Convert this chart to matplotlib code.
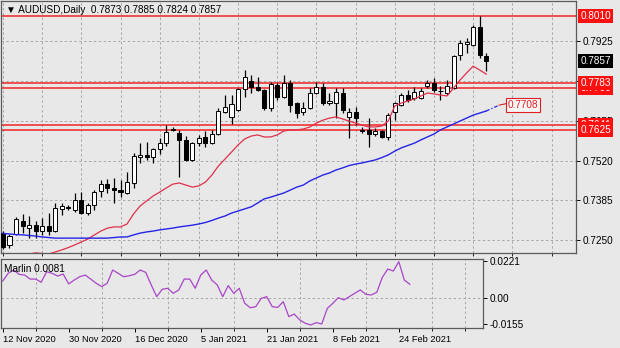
import matplotlib.pyplot as plt

# daily candles, oldest first
opens = [0.7274, 0.7234, 0.7271, 0.7315, 0.7291, 0.7301, 0.7281, 0.7298, 0.7281, 0.7356,
         0.7361, 0.7352, 0.7386, 0.7342, 0.7369, 0.7417, 0.7440, 0.7427, 0.7420, 0.7410,
         0.7444, 0.7532, 0.7539, 0.7532, 0.7559, 0.7579, 0.7624, 0.7613, 0.7590, 0.7522,
         0.7579, 0.7600, 0.7579, 0.7610, 0.7685, 0.7668, 0.7691, 0.7762, 0.7790, 0.7769,
         0.7759, 0.7698, 0.7776, 0.7735, 0.7783, 0.7715, 0.7685, 0.7698, 0.7749, 0.7769,
         0.7715, 0.7715, 0.7749, 0.7668, 0.7685, 0.7622, 0.7624, 0.7610, 0.7620, 0.7600,
         0.7685, 0.7708, 0.7742, 0.7732, 0.7732, 0.7773, 0.7783, 0.7757, 0.7749, 0.7766,
         0.7878, 0.7915, 0.7912, 0.7973, 0.7873]
highs = [0.7280, 0.7271, 0.7328, 0.7339, 0.7332, 0.7315, 0.7325, 0.7342, 0.7376, 0.7376,
         0.7369, 0.7410, 0.7413, 0.7376, 0.7420, 0.7454, 0.7457, 0.7461, 0.7454, 0.7481,
         0.7546, 0.7579, 0.7583, 0.7562, 0.7596, 0.7640, 0.7634, 0.7624, 0.7603, 0.7583,
         0.7607, 0.7620, 0.7624, 0.7698, 0.7742, 0.7742, 0.7766, 0.7827, 0.7810, 0.7803,
         0.7762, 0.7786, 0.7783, 0.7810, 0.7793, 0.7720, 0.7718, 0.7766, 0.7786, 0.7783,
         0.7749, 0.7766, 0.7766, 0.7698, 0.7701, 0.7634, 0.7664, 0.7630, 0.7624, 0.7681,
         0.7718, 0.7749, 0.7759, 0.7769, 0.7766, 0.7793, 0.7800, 0.7773, 0.7793, 0.7878,
         0.7929, 0.7935, 0.7979, 0.8010, 0.7885]
lows = [0.7220, 0.7223, 0.7268, 0.7274, 0.7257, 0.7257, 0.7268, 0.7268, 0.7278, 0.7335,
        0.7352, 0.7346, 0.7339, 0.7335, 0.7352, 0.7396, 0.7410, 0.7376, 0.7396, 0.7408,
        0.7427, 0.7512, 0.7522, 0.7512, 0.7542, 0.7569, 0.7620, 0.7464, 0.7518, 0.7518,
        0.7569, 0.7566, 0.7576, 0.7607, 0.7681, 0.7644, 0.7688, 0.7735, 0.7749, 0.7755,
        0.7691, 0.7688, 0.7725, 0.7732, 0.7685, 0.7664, 0.7674, 0.7695, 0.7745, 0.7708,
        0.7708, 0.7664, 0.7681, 0.7596, 0.7640, 0.7613, 0.7566, 0.7603, 0.7596, 0.7590,
        0.7657, 0.7705, 0.7718, 0.7725, 0.7728, 0.7766, 0.7752, 0.7725, 0.7742, 0.7762,
        0.7861, 0.7885, 0.7908, 0.7868, 0.7824]
closes = [0.7227, 0.7264, 0.7322, 0.7298, 0.7301, 0.7281, 0.7298, 0.7281, 0.7359, 0.7366,
          0.7359, 0.7386, 0.7342, 0.7369, 0.7413, 0.7440, 0.7427, 0.7420, 0.7413, 0.7447,
          0.7535, 0.7539, 0.7532, 0.7559, 0.7579, 0.7617, 0.7627, 0.7590, 0.7522, 0.7579,
          0.7596, 0.7579, 0.7610, 0.7688, 0.7701, 0.7712, 0.7762, 0.7803, 0.7769, 0.7759,
          0.7698, 0.7779, 0.7735, 0.7783, 0.7708, 0.7681, 0.7698, 0.7749, 0.7769, 0.7715,
          0.7722, 0.7752, 0.7691, 0.7685, 0.7664, 0.7619, 0.7610, 0.7620, 0.7600, 0.7674,
          0.7715, 0.7742, 0.7725, 0.7752, 0.7756, 0.7783, 0.7759, 0.7755, 0.7773, 0.7874,
          0.7918, 0.7922, 0.7973, 0.7878, 0.7857]

# fast moving average (starts at bar 2)
fast_ma = [0.7190, 0.7196, 0.7203, 0.7207, 0.7205, 0.7203, 0.7210, 0.7217, 0.7225, 0.7234,
           0.7244, 0.7254, 0.7268, 0.7281, 0.7291, 0.7295, 0.7295, 0.7305, 0.7339, 0.7366,
           0.7383, 0.7400, 0.7413, 0.7427, 0.7440, 0.7444, 0.7437, 0.7430, 0.7434, 0.7447,
           0.7471, 0.7502, 0.7525, 0.7549, 0.7573, 0.7593, 0.7603, 0.7607, 0.7600, 0.7600,
           0.7607, 0.7620, 0.7624, 0.7624, 0.7627, 0.7634, 0.7647, 0.7657, 0.7664, 0.7668,
           0.7661, 0.7654, 0.7647, 0.7640, 0.7634, 0.7634, 0.7637, 0.7654, 0.7705, 0.7715,
           0.7722, 0.7729, 0.7739, 0.7749, 0.7746, 0.7742, 0.7739, 0.7766, 0.7793, 0.7817,
           0.7840, 0.7827, 0.7813]
fast_start = 2

# slow moving average (from bar 0)
slow_ma = [0.7273, 0.7271, 0.7269, 0.7268, 0.7266, 0.7264, 0.7261, 0.7259, 0.7257, 0.7257,
           0.7257, 0.7257, 0.7257, 0.7257, 0.7257, 0.7257, 0.7257, 0.7259, 0.7261, 0.7261,
           0.7268, 0.7274, 0.7278, 0.7281, 0.7285, 0.7288, 0.7291, 0.7295, 0.7298, 0.7301,
           0.7305, 0.7310, 0.7317, 0.7325, 0.7332, 0.7342, 0.7349, 0.7356, 0.7363, 0.7376,
           0.7390, 0.7396, 0.7403, 0.7410, 0.7420, 0.7430, 0.7437, 0.7451, 0.7461, 0.7471,
           0.7478, 0.7488, 0.7495, 0.7503, 0.7508, 0.7512, 0.7517, 0.7522, 0.7530, 0.7539,
           0.7552, 0.7563, 0.7571, 0.7579, 0.7590, 0.7600, 0.7610, 0.7624, 0.7634, 0.7644,
           0.7654, 0.7664, 0.7674, 0.7681, 0.7688]
slow_target = 0.7708

marlin = [0.0101, 0.0147, 0.0167, 0.0141, 0.0137, 0.0113, 0.0113, 0.0094, 0.0157, 0.0147,
          0.0131, 0.0143, 0.0084, 0.0107, 0.0127, 0.0137, 0.0113, 0.0088, 0.0068, 0.0088,
          0.0167, 0.0147, 0.0127, 0.0133, 0.0141, 0.0167, 0.0153, 0.0078, 0.0008, 0.0052,
          0.0058, 0.0028, 0.0048, 0.0113, 0.0113, 0.0058, 0.0137, 0.0167, 0.0107, 0.0078,
          0.0008, 0.0074, 0.0028, 0.0058, -0.0032, -0.0058, -0.0052, -0.0002, 0.0008, -0.0052,
          -0.0056, -0.0022, -0.0111, -0.0096, -0.0131, -0.0151, -0.0161, -0.0147, -0.0155, -0.0062,
          -0.0032, 0.0002, -0.0012, 0.0008, 0.0028, 0.0048, 0.0022, 0.0018, 0.0034, 0.0123,
          0.0173, 0.0161, 0.0217, 0.0107, 0.0082]

price_ticks = [0.7250, 0.7385, 0.7520, 0.7655, 0.7790, 0.7925]
price_tick_labels = ['0.7250', '0.7385', '0.7520', '0.7655', '', '0.7925']
marlin_ticks = [-0.0155, 0.0, 0.0221]
marlin_tick_labels = ['-0.0155', '0.00', '0.0221']
date_pos = [0, 12, 24, 36, 48, 60, 72]
date_labels = ['12 Nov 2020', '30 Nov 2020', '16 Dec 2020', '5 Jan 2021',
               '21 Jan 2021', '8 Feb 2021', '24 Feb 2021']
levels = [0.8010, 0.7783, 0.7766, 0.7641, 0.7625]
last_price = 0.7857

BG = '#E8E8E8'
FONT = ['Liberation Sans', 'DejaVu Sans']
plt.rcParams['font.family'] = FONT
plt.rcParams['font.size'] = 6.6

W, H = 620, 348
fig = plt.figure(figsize=(W / 100, H / 100), dpi=100, facecolor=BG)
ax = fig.add_axes([1 / W, (H - 253) / H, 575 / W, 252 / H], facecolor=BG)
ax2 = fig.add_axes([1 / W, (H - 328) / H, 482 / W, 69 / H], facecolor=BG)

n = len(closes)
xs = list(range(n))

# candles
for i in xs:
    o, h, l, c = opens[i], highs[i], lows[i], closes[i]
    ax.vlines(i, l, h, color='black', lw=0.9, zorder=3)
    lo, hi = min(o, c), max(o, c)
    if hi - lo < 0.00025:
        lo, hi = (lo + hi) / 2 - 0.000125, (lo + hi) / 2 + 0.000125
    ax.bar(i, hi - lo, bottom=lo, width=0.62, color='white' if c >= o else 'black',
           edgecolor='black', lw=0.7, zorder=4)

# moving averages
ax.plot(range(fast_start, fast_start + len(fast_ma)), fast_ma, color='#E0304A', lw=0.9, zorder=5)
ax.plot(range(len(slow_ma)), slow_ma, color='#2424E6', lw=1.0, zorder=5)
ax.plot([n - 1, n + 1], [slow_ma[-1], slow_target], color='#2424E6', lw=0.9, ls=(0, (3, 1.5, 1, 1.5)), zorder=5)
ax.plot([n + 1, n + 2.3], [slow_target, slow_target + 0.0006], color='#E02020', lw=0.8, zorder=5)
ax.text(n + 2.3, slow_target + 0.0001, '0.7708', color='#E02020', ha='left', va='center', fontsize=7.2,
        zorder=6, bbox=dict(facecolor='#F6F6F6', edgecolor='#E02020', lw=0.8, pad=1.2))

# horizontal levels
for lv in levels:
    ax.axhline(lv, color='#F02424', lw=1.1, zorder=2)

# grid
for a in (ax, ax2):
    a.set_xlim(-0.3, 87.75 if a is ax else 87.3)
    a.set_xticks(range(0, 88, 6), minor=True)
    a.grid(which='minor', axis='x', color='#A8A8A8', lw=0.7, ls=(0, (2.5, 2.5)))
    for s in a.spines.values():
        s.set_color('#5A5A5A')
        s.set_linewidth(0.9)

ax.set_ylim(0.72066, 0.80609)
ax.set_yticks(price_ticks)
ax.set_yticklabels(price_tick_labels)
ax.yaxis.tick_right()
ax.tick_params(axis='y', length=3, width=0.7, pad=2, labelsize=7.2, colors='black')
ax.grid(axis='y', color='#A8A8A8', lw=0.7, ls=(0, (2.5, 2.5)))
ax.set_xticks([])
ax.set_axisbelow(True)

# price labels on the right scale
ytr = ax.get_yaxis_transform()
for lv, txt, fc in [(0.8010, '0.8010', '#FF1010'), (0.7766, '0.7766', '#FF1010'),
                    (0.7783, '0.7783', '#FF1010'), (0.7641, '0.7641', '#FF1010'),
                    (0.7625, '0.7625', '#FF1010'), (last_price, '0.7857', 'black')]:
    ax.text(1.0075, lv, txt, transform=ytr, color='white', ha='left', va='center', fontsize=7.2,
            zorder=10, clip_on=False, bbox=dict(facecolor=fc, edgecolor='none', pad=1.6))

ax.text(0.008, 0.985, '\u25bc AUDUSD,Daily  0.7873 0.7885 0.7824 0.7857', transform=ax.transAxes,
        ha='left', va='top', fontsize=7.2, family=FONT, zorder=10)

# Marlin oscillator
ax2.plot(range(len(marlin)), marlin, color='#A945C8', lw=0.9)
ax2.set_ylim(-0.01791, 0.02328)
ax2.set_yticks(marlin_ticks)
ax2.set_yticklabels(marlin_tick_labels)
ax2.yaxis.tick_right()
ax2.tick_params(axis='y', length=3, width=0.7, pad=2, labelsize=7.2)
ax2.axhline(0, color='#A8A8A8', lw=0.7, ls=(0, (2.5, 2.5)), zorder=0)
ax2.set_xticks(date_pos)
ax2.set_xticklabels(date_labels, ha='left')
ax2.tick_params(axis='x', length=3, width=0.7, pad=2, labelsize=6.7)
ax2.text(0.006, 0.93, 'Marlin 0.0081', transform=ax2.transAxes, ha='left', va='top', fontsize=7.2)

fig.savefig('out.png', dpi=100, facecolor=BG)
